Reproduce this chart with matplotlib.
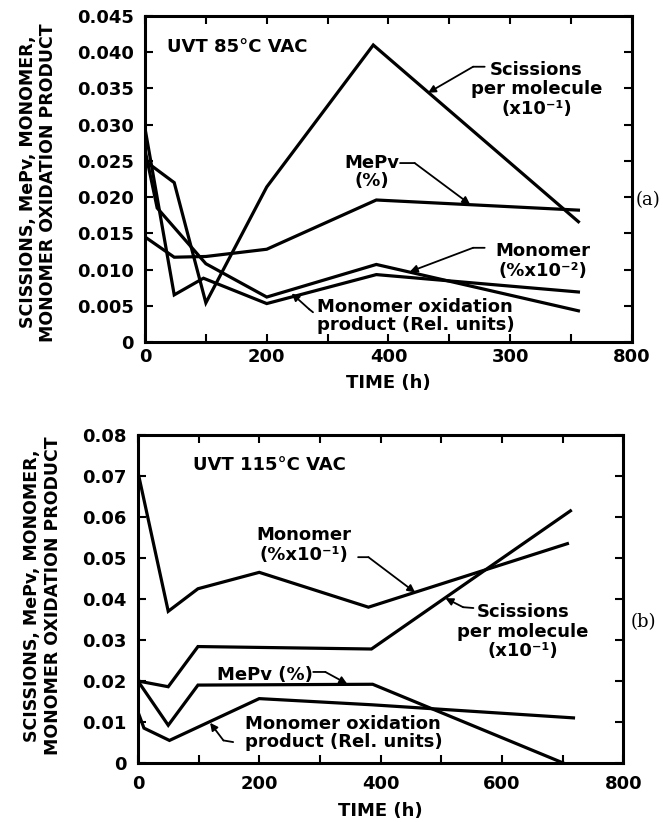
import numpy as np
import matplotlib
matplotlib.use("Agg")
import matplotlib.pyplot as plt

plt.rcParams['font.family'] = ['DejaVu Sans']
plt.rcParams['font.weight'] = 'bold'

# ---- panel (a): UVT 85C VAC ----
a_scis_t = [0, 48, 100, 200, 375, 712]
a_scis = [0.025, 0.022, 0.0054, 0.0214, 0.041, 0.0166]
a_mepv_t = [0, 48, 100, 200, 380, 712]
a_mepv = [0.0145, 0.0117, 0.0118, 0.0128, 0.0196, 0.0182]
a_mono_t = [0, 20, 100, 200, 380, 712]
a_mono = [0.0265, 0.0185, 0.0108, 0.0062, 0.0107, 0.0043]
a_ox_t = [0, 48, 96, 200, 380, 712]
a_ox = [0.0295, 0.0065, 0.0088, 0.0053, 0.0093, 0.0069]

# ---- panel (b): UVT 115C VAC ----
b_mono_t = [0, 50, 99, 200, 380, 708]
b_mono = [0.071, 0.037, 0.0425, 0.0465, 0.038, 0.0535]
b_scis_t = [0, 50, 99, 385, 713]
b_scis = [0.0200, 0.0186, 0.0284, 0.0278, 0.0615]
b_mepv_t = [0, 50, 99, 387, 701]
b_mepv = [0.0200, 0.0092, 0.0190, 0.0192, 0.0]
b_ox_t = [0, 10, 52, 200, 385, 718]
b_ox = [0.0125, 0.0085, 0.0055, 0.0157, 0.0142, 0.011]

xticks = list(range(0, 900, 100))
a_xlabels = ['0', '', '200', '', '400', '', '300', '', '800']
b_xlabels = ['0', '', '200', '', '400', '', '600', '', '800']
a_yticks = [i * 0.005 for i in range(10)]
a_ylabels = ['0'] + ['%.3f' % v for v in a_yticks[1:]]
b_yticks = [i * 0.01 for i in range(9)]
b_ylabels = ['0'] + ['%.2f' % v for v in b_yticks[1:]]

ylab = 'SCISSIONS, MePv, MONOMER,\nMONOMER OXIDATION PRODUCT'
LW = 2.3
FS = 13

fig = plt.figure(figsize=(6.63, 8.22), dpi=100)
ax1 = fig.add_axes([0.2187, 0.584, 0.7345, 0.3965])
ax2 = fig.add_axes([0.208, 0.0718, 0.732, 0.399])


def style(ax, yticks, ylabels, xlabels, ymax, xpad, lpad):
    ax.set_xlim(0, 800)
    ax.set_ylim(0, ymax)
    ax.set_xticks(xticks)
    ax.set_xticklabels(xlabels)
    ax.set_yticks(yticks)
    ax.set_yticklabels(ylabels)
    ax.tick_params(direction='in', length=6, width=1.5, top=True, right=True,
                   labelsize=FS)
    ax.tick_params(axis='x', pad=xpad)
    ax.tick_params(axis='y', pad=8)
    for s in ax.spines.values():
        s.set_linewidth(2.2)
    ax.set_xlabel('TIME (h)', fontsize=FS, fontweight='bold', labelpad=lpad)
    ax.set_ylabel(ylab, fontsize=12.5, fontweight='bold', linespacing=1.2)


def arrow(ax, start, mid, tip):
    ax.annotate('', xy=mid, xytext=start,
                arrowprops=dict(arrowstyle='-', lw=1.3, color='black',
                                shrinkA=0, shrinkB=0))
    ax.annotate('', xy=tip, xytext=mid,
                arrowprops=dict(arrowstyle='-|>', lw=1.3, color='black',
                                mutation_scale=11, shrinkA=0, shrinkB=0))


# panel (a)
for t, v in [(a_scis_t, a_scis), (a_mepv_t, a_mepv), (a_mono_t, a_mono), (a_ox_t, a_ox)]:
    ax1.plot(t, v, color='black', lw=LW, solid_joinstyle='miter')
style(ax1, a_yticks, a_ylabels, a_xlabels, 0.045, 4, 6)
ax1.yaxis.set_label_coords(-0.18, 0.49)

ax1.text(36, 0.0407, 'UVT 85°C VAC', fontsize=FS, va='center', ha='left')
ax1.text(643, 0.0349, 'Scissions\nper molecule\n(x10⁻¹)', fontsize=FS,
         ha='center', va='center', linespacing=1.1)
arrow(ax1, (558, 0.0380), (539, 0.0380), (465, 0.0344))
ax1.text(372, 0.0235, 'MePv\n(%)', fontsize=FS, ha='center', va='center',
         linespacing=1.0)
arrow(ax1, (419, 0.0247), (443, 0.0247), (534, 0.0190))
ax1.text(654, 0.0112, 'Monomer\n(%x10⁻²)', fontsize=FS, ha='center',
         va='center', linespacing=1.1)
arrow(ax1, (558, 0.0130), (539, 0.0130), (435, 0.0097))
ax1.text(282, 0.0036, 'Monomer oxidation\nproduct (Rel. units)', fontsize=FS,
         ha='left', va='center', linespacing=1.0)
arrow(ax1, (276, 0.0041), (270, 0.0045), (241, 0.0067))
ax1.text(806, 0.0196, '(a)', fontsize=13, ha='left', va='center',
         family='DejaVu Serif', fontweight='normal', clip_on=False)

# panel (b)
for t, v in [(b_mono_t, b_mono), (b_scis_t, b_scis), (b_mepv_t, b_mepv), (b_ox_t, b_ox)]:
    ax2.plot(t, v, color='black', lw=LW, solid_joinstyle='miter')
style(ax2, b_yticks, b_ylabels, b_xlabels, 0.08, 9, 6)
ax2.yaxis.set_label_coords(-0.157, 0.51)

ax2.text(91, 0.0727, 'UVT 115°C VAC', fontsize=FS, va='center', ha='left')
ax2.text(274, 0.0532, 'Monomer\n(%x10⁻¹)', fontsize=FS, ha='center',
         va='center', linespacing=1.15)
arrow(ax2, (363, 0.0502), (380, 0.0502), (457, 0.0416))
ax2.text(635, 0.0320, 'Scissions\nper molecule\n(x10⁻¹)', fontsize=FS,
         ha='center', va='center', linespacing=1.1)
arrow(ax2, (553, 0.0378), (536, 0.0380), (507, 0.0402))
ax2.text(130, 0.0215, 'MePv (%)', fontsize=FS, ha='left', va='center')
arrow(ax2, (289, 0.0222), (309, 0.0222), (345, 0.0193))
ax2.text(177, 0.0073, 'Monomer oxidation\nproduct (Rel. units)', fontsize=FS,
         ha='left', va='center', linespacing=1.0)
arrow(ax2, (157, 0.0051), (141, 0.0055), (119, 0.0098))
ax2.text(812, 0.0344, '(b)', fontsize=13, ha='left', va='center',
         family='DejaVu Serif', fontweight='normal', clip_on=False)

fig.savefig('out.png', dpi=100)
